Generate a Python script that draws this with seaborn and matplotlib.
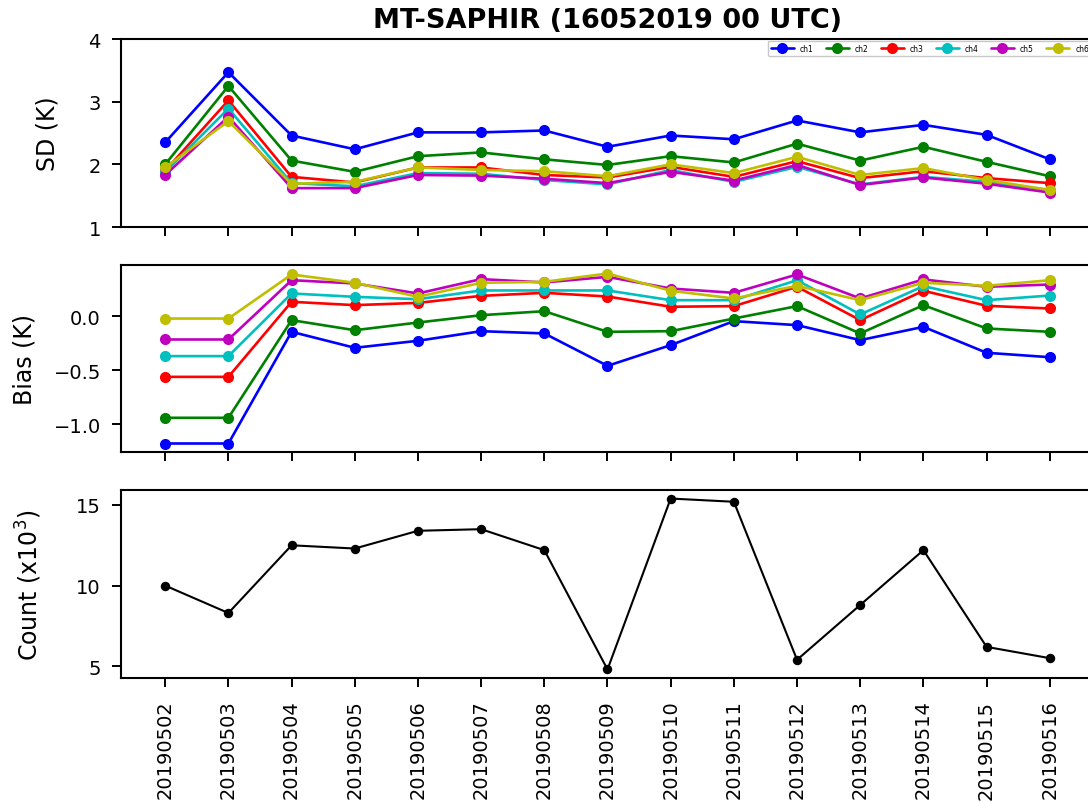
import numpy as np
import pandas as pd
import matplotlib
matplotlib.use("Agg")
import matplotlib.pyplot as plt
import seaborn as sns

dates = ["20190502", "20190503", "20190504", "20190505", "20190506", "20190507",
         "20190508", "20190509", "20190510", "20190511", "20190512", "20190513",
         "20190514", "20190515", "20190516"]
channels = ["ch1", "ch2", "ch3", "ch4", "ch5", "ch6"]
colors = ["#0000ff", "#008000", "#ff0000", "#00bfbf", "#bf00bf", "#bfbf00"]

sd_ch1 = [2.35, 3.47, 2.46, 2.24, 2.51, 2.51, 2.54, 2.28, 2.46, 2.40, 2.70, 2.51, 2.63, 2.47, 2.08]
sd_ch2 = [2.00, 3.25, 2.06, 1.88, 2.13, 2.19, 2.08, 1.99, 2.13, 2.03, 2.33, 2.06, 2.28, 2.04, 1.81]
sd_ch3 = [1.90, 3.02, 1.80, 1.71, 1.95, 1.95, 1.83, 1.79, 1.96, 1.80, 2.05, 1.78, 1.89, 1.78, 1.70]
sd_ch4 = [1.88, 2.89, 1.70, 1.65, 1.86, 1.85, 1.75, 1.68, 1.91, 1.72, 1.96, 1.68, 1.80, 1.72, 1.59]
sd_ch5 = [1.83, 2.76, 1.62, 1.62, 1.83, 1.82, 1.77, 1.70, 1.88, 1.74, 1.99, 1.67, 1.79, 1.69, 1.55]
sd_ch6 = [1.95, 2.69, 1.69, 1.72, 1.95, 1.91, 1.89, 1.81, 2.00, 1.86, 2.12, 1.83, 1.94, 1.75, 1.59]

bias_ch1 = [-1.176, -1.176, -0.142, -0.290, -0.225, -0.136, -0.157, -0.457, -0.265, -0.043, -0.080, -0.219, -0.096, -0.336, -0.377]
bias_ch2 = [-0.938, -0.938, -0.034, -0.127, -0.056, 0.012, 0.049, -0.142, -0.136, -0.019, 0.096, -0.157, 0.105, -0.111, -0.142]
bias_ch3 = [-0.559, -0.559, 0.136, 0.105, 0.126, 0.191, 0.219, 0.185, 0.090, 0.096, 0.275, -0.034, 0.238, 0.099, 0.074]
bias_ch4 = [-0.367, -0.367, 0.213, 0.182, 0.160, 0.241, 0.241, 0.241, 0.151, 0.151, 0.336, 0.019, 0.281, 0.151, 0.194]
bias_ch5 = [-0.213, -0.213, 0.336, 0.306, 0.213, 0.346, 0.315, 0.367, 0.259, 0.219, 0.389, 0.167, 0.343, 0.275, 0.296]
bias_ch6 = [-0.019, -0.019, 0.389, 0.312, 0.182, 0.312, 0.321, 0.398, 0.238, 0.167, 0.284, 0.151, 0.312, 0.284, 0.336]

count_k = [10.0, 8.3, 12.5, 12.3, 13.4, 13.5, 12.2, 4.8, 15.4, 15.2, 5.4, 8.8, 12.2, 6.2, 5.5]

sd_all = [sd_ch1, sd_ch2, sd_ch3, sd_ch4, sd_ch5, sd_ch6]
bias_all = [bias_ch1, bias_ch2, bias_ch3, bias_ch4, bias_ch5, bias_ch6]

rows = []
for ch, sdv, bv in zip(channels, sd_all, bias_all):
    for d, s, b in zip(dates, sdv, bv):
        rows.append({"date": d, "channel": ch, "SD": s, "Bias": b})
df = pd.DataFrame(rows)
dfc = pd.DataFrame({"date": dates, "count": count_k})

sns.set_theme(style="ticks")
plt.rcParams.update({
    "font.family": ["DejaVu Sans"],
    "text.color": "black",
    "axes.labelcolor": "black",
    "xtick.color": "black",
    "ytick.color": "black",
    "axes.edgecolor": "black",
    "axes.linewidth": 1.5,
    "xtick.major.width": 1.4,
    "ytick.major.width": 1.4,
    "xtick.major.size": 6.5,
    "ytick.major.size": 6.5,
    "xtick.major.pad": 9,
    "ytick.major.pad": 8,
    "xtick.labelsize": 14,
    "ytick.labelsize": 14,
    "axes.labelsize": 17,
})

W, H = 1088, 803
fig = plt.figure(figsize=(W / 100, H / 100), dpi=100)
left = 121 / W
width = (1094 - 121) / W
def pos(top, bottom):
    return [left, 1 - bottom / H, width, (bottom - top) / H]

ax1 = fig.add_axes(pos(40, 228))
ax2 = fig.add_axes(pos(266, 453), sharex=ax1)
ax3 = fig.add_axes(pos(491, 679), sharex=ax1)

pal = dict(zip(channels, colors))
sns.lineplot(data=df, x="date", y="SD", hue="channel", palette=pal, marker="o",
             markersize=8, markeredgewidth=0, linewidth=1.9, sort=False, ax=ax1)
sns.lineplot(data=df, x="date", y="Bias", hue="channel", palette=pal, marker="o",
             markersize=8, markeredgewidth=0, linewidth=1.9, sort=False, ax=ax2, legend=False)
sns.lineplot(data=dfc, x="date", y="count", color="black", marker="o",
             markersize=6.8, markeredgewidth=0, linewidth=1.5, sort=False, ax=ax3)

ax1.set_ylim(1, 4)
ax1.set_yticks([1, 2, 3, 4])
ax1.set_ylabel("SD (K)")
ax2.set_ylabel("Bias (K)")
ax3.set_ylabel("Count (x$10^3$)")
for ax in (ax1, ax2, ax3):
    ax.set_xlabel("")
ax3.set_yticks([5, 10, 15])
ax2.set_yticks([-1.0, -0.5, 0.0])
ax1.yaxis.set_label_coords((59 - 121) / 973, 0.5)
ax2.yaxis.set_label_coords((36 - 121) / 973, 0.5)
ax3.yaxis.set_label_coords((44 - 121) / 973, 0.5)
plt.setp(ax1.get_xticklabels(), visible=False)
plt.setp(ax2.get_xticklabels(), visible=False)
plt.setp(ax3.get_xticklabels(), rotation=90)

ax1.set_title("MT-SAPHIR (16052019 00 UTC)", fontsize=19.5, fontweight="bold", pad=8.5)

leg = ax1.legend(loc="upper right", ncol=6, fontsize=5.5, frameon=True,
                 borderaxespad=0.25, handlelength=3, markerscale=1.0, columnspacing=1.6)
leg.get_frame().set_edgecolor("#bbbbbb")

fig.savefig("out.png", dpi=100)
